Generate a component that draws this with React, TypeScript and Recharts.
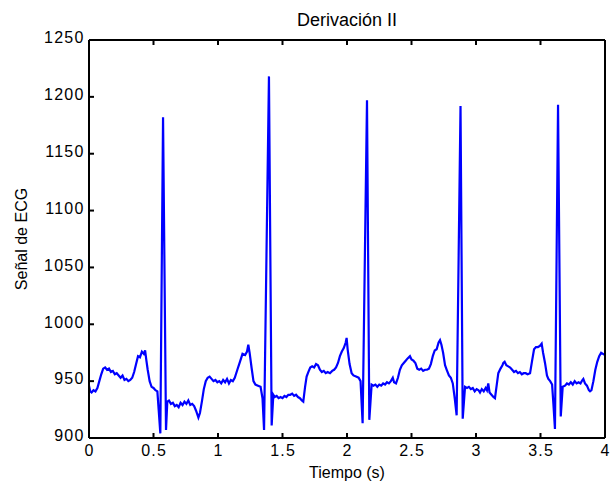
import { LineChart, Line, XAxis, YAxis, Label } from "recharts";

const xTicks = [0, 0.5, 1, 1.5, 2, 2.5, 3, 3.5, 4];
const yTicks = [900, 950, 1000, 1050, 1100, 1150, 1200, 1250];

// [tiempo (s), señal]
const cycle1: [number, number][] = [
  [0, 946], [0.01, 941], [0.02, 940], [0.035, 942], [0.05, 941], [0.065, 944],
  [0.08, 950], [0.095, 956], [0.11, 961], [0.125, 962], [0.14, 960], [0.155, 961],
  [0.17, 958], [0.185, 959], [0.2, 956], [0.215, 957], [0.23, 955], [0.245, 953],
  [0.26, 955], [0.275, 951], [0.29, 952], [0.305, 950], [0.32, 951], [0.335, 953],
  [0.35, 958], [0.365, 965], [0.38, 972], [0.395, 971], [0.41, 976], [0.425, 974],
  [0.435, 977], [0.445, 968], [0.455, 960], [0.47, 950], [0.485, 945], [0.5, 944],
  [0.515, 942], [0.53, 941], [0.54, 925], [0.553, 904], [0.574, 1182], [0.597, 907],
];

const cycle2: [number, number][] = [
  [0.607, 932], [0.62, 933], [0.635, 930], [0.65, 931], [0.665, 928], [0.68, 929],
  [0.695, 927], [0.71, 931], [0.725, 929], [0.74, 932], [0.755, 930], [0.77, 933],
  [0.785, 929], [0.8, 930], [0.815, 928], [0.83, 924], [0.848, 918], [0.86, 922],
  [0.875, 932], [0.89, 943], [0.905, 950], [0.92, 953], [0.935, 954], [0.95, 952],
  [0.965, 950], [0.98, 951], [0.995, 949], [1.01, 950], [1.025, 948], [1.04, 951],
  [1.055, 949], [1.07, 952], [1.085, 948], [1.1, 951], [1.115, 950], [1.13, 953],
  [1.15, 960], [1.17, 967], [1.19, 974], [1.21, 973], [1.225, 976], [1.235, 982],
  [1.245, 975], [1.26, 962], [1.275, 950], [1.29, 947], [1.31, 946], [1.33, 945],
  [1.345, 935], [1.357, 907], [1.395, 1218], [1.416, 911],
];

const cycle3: [number, number][] = [
  [1.429, 938], [1.44, 936], [1.455, 937], [1.47, 935], [1.485, 936], [1.5, 935],
  [1.515, 937], [1.53, 936], [1.545, 938], [1.56, 938], [1.575, 939], [1.59, 937],
  [1.605, 938], [1.62, 936], [1.635, 935], [1.65, 933], [1.661, 932], [1.675, 945],
  [1.687, 954], [1.7, 958], [1.715, 962], [1.73, 963], [1.745, 962], [1.76, 965],
  [1.775, 964], [1.79, 960], [1.805, 958], [1.82, 959], [1.835, 957], [1.85, 958],
  [1.868, 957], [1.885, 959], [1.9, 960], [1.915, 962], [1.93, 966], [1.945, 972],
  [1.96, 976], [1.975, 979], [1.99, 984], [1.997, 988], [2.005, 978], [2.02, 965],
  [2.036, 957], [2.05, 955], [2.07, 954], [2.09, 953], [2.105, 950], [2.121, 913],
  [2.155, 1197], [2.173, 916],
];

const cycle4: [number, number][] = [
  [2.191, 947], [2.205, 946], [2.22, 947], [2.235, 945], [2.25, 947], [2.265, 946],
  [2.28, 948], [2.295, 947], [2.31, 949], [2.325, 948], [2.34, 950], [2.355, 953],
  [2.365, 949], [2.38, 948], [2.395, 953], [2.41, 960], [2.425, 964], [2.44, 966],
  [2.455, 968], [2.47, 970], [2.488, 972], [2.5, 969], [2.515, 968], [2.53, 966],
  [2.545, 961], [2.56, 960], [2.575, 961], [2.59, 959], [2.605, 960], [2.62, 960],
  [2.635, 961], [2.65, 965], [2.665, 972], [2.68, 977], [2.695, 978], [2.71, 984],
  [2.721, 986], [2.732, 982], [2.745, 975], [2.76, 964], [2.773, 960], [2.79, 955],
  [2.805, 953], [2.82, 948], [2.835, 935], [2.85, 920], [2.88, 1192], [2.897, 917],
];

const cycle5: [number, number][] = [
  [2.915, 945], [2.93, 944], [2.945, 945], [2.96, 943], [2.975, 944], [2.99, 941],
  [3.005, 943], [3.02, 942], [3.031, 940], [3.045, 943], [3.06, 941], [3.075, 944],
  [3.085, 942], [3.095, 948], [3.105, 940], [3.12, 938], [3.135, 936], [3.147, 935],
  [3.16, 946], [3.173, 957], [3.19, 961], [3.205, 964], [3.212, 966], [3.222, 967],
  [3.235, 964], [3.25, 963], [3.265, 962], [3.28, 960], [3.295, 958], [3.31, 959],
  [3.325, 957], [3.34, 958], [3.355, 956], [3.37, 957], [3.385, 957], [3.4, 956],
  [3.419, 957], [3.435, 968], [3.45, 978], [3.465, 980], [3.48, 980], [3.495, 981],
  [3.509, 983], [3.52, 975], [3.535, 966], [3.55, 955], [3.561, 952], [3.575, 950],
  [3.59, 947], [3.6, 930], [3.612, 908], [3.636, 1193], [3.657, 919],
];

const cycle6: [number, number][] = [
  [3.672, 945], [3.69, 946], [3.705, 948], [3.72, 947], [3.735, 949], [3.75, 947],
  [3.765, 950], [3.78, 948], [3.795, 949], [3.81, 948], [3.825, 951], [3.832, 952],
  [3.845, 948], [3.86, 946], [3.875, 942], [3.884, 941], [3.895, 942], [3.91, 950],
  [3.925, 960], [3.94, 967], [3.955, 972], [3.97, 975], [3.985, 974], [4, 973],
];

const data = [...cycle1, ...cycle2, ...cycle3, ...cycle4, ...cycle5, ...cycle6].map(
  ([t, v]) => ({ t, v })
);

const font = "'Liberation Sans', Arial, sans-serif";
const axisLine = { stroke: "#000", strokeWidth: 2 };
const labelStyle = { fill: "#000", fontSize: 16, fontFamily: font };

// ticks hacia dentro, como en MATLAB
const BottomTick = (props: any) => {
  const { x, y, payload } = props;
  return (
    <g>
      <line x1={x} y1={y} x2={x} y2={y - 5} stroke="#000" strokeWidth={2} />
      <text
        x={x + 0.6}
        y={y + 17.5}
        textAnchor="middle"
        fill="#000"
        fontSize={16}
        fontFamily={font}
        letterSpacing={1.2}
      >
        {String(payload.value)}
      </text>
    </g>
  );
};

const LeftTick = (props: any) => {
  const { x, y, payload } = props;
  return (
    <g>
      <line x1={x} y1={y} x2={x + 5} y2={y} stroke="#000" strokeWidth={2} />
      <text
        x={x - 4.5}
        y={y + 3.3}
        textAnchor="end"
        fill="#000"
        fontSize={16}
        fontFamily={font}
        letterSpacing={1.2}
      >
        {String(payload.value)}
      </text>
    </g>
  );
};

const TopTick = (props: any) => {
  const { x, y } = props;
  return <line x1={x} y1={y} x2={x} y2={y + 5} stroke="#000" strokeWidth={2} />;
};

const RightTick = (props: any) => {
  const { x, y } = props;
  return <line x1={x} y1={y} x2={x - 5} y2={y} stroke="#000" strokeWidth={2} />;
};

export default function App() {
  return (
    <div style={{ position: "absolute", left: 0, top: 0, background: "#fff" }}>
      <LineChart
        width={610}
        height={487}
        data={data}
        margin={{ top: 39, right: 4, bottom: 0, left: 0 }}
      >
        <XAxis
          dataKey="t"
          type="number"
          domain={[0, 4]}
          ticks={xTicks}
          height={49}
          tickSize={0}
          tickMargin={0}
          tick={BottomTick}
          tickLine={false}
          axisLine={axisLine}
          interval={0}
        >
          <Label value="Tiempo (s)" position="insideBottom" offset={9} style={labelStyle} />
        </XAxis>
        <XAxis
          xAxisId="top"
          orientation="top"
          dataKey="t"
          type="number"
          domain={[0, 4]}
          ticks={xTicks}
          height={1}
          tickSize={0}
          tickMargin={0}
          tick={TopTick}
          tickLine={false}
          axisLine={axisLine}
          interval={0}
        >
          <Label
            value="Derivación II"
            position="top"
            offset={13}
            style={{ ...labelStyle, fontSize: 18 }}
          />
        </XAxis>
        <YAxis
          type="number"
          domain={[900, 1250]}
          ticks={yTicks}
          width={89}
          tickSize={0}
          tickMargin={0}
          tick={LeftTick}
          tickLine={false}
          axisLine={axisLine}
          interval={0}
          allowDataOverflow
        >
          <Label
            value="Señal de ECG"
            angle={-90}
            position="insideLeft"
            offset={21}
            style={{ ...labelStyle, textAnchor: "middle" }}
          />
        </YAxis>
        <YAxis
          yAxisId="right"
          orientation="right"
          type="number"
          domain={[900, 1250]}
          ticks={yTicks}
          width={1}
          tickSize={0}
          tickMargin={0}
          tick={RightTick}
          tickLine={false}
          axisLine={axisLine}
          interval={0}
        />
        <Line
          type="linear"
          dataKey="v"
          stroke="#0000ff"
          strokeWidth={2.2}
          dot={false}
          isAnimationActive={false}
        />
      </LineChart>
    </div>
  );
}
